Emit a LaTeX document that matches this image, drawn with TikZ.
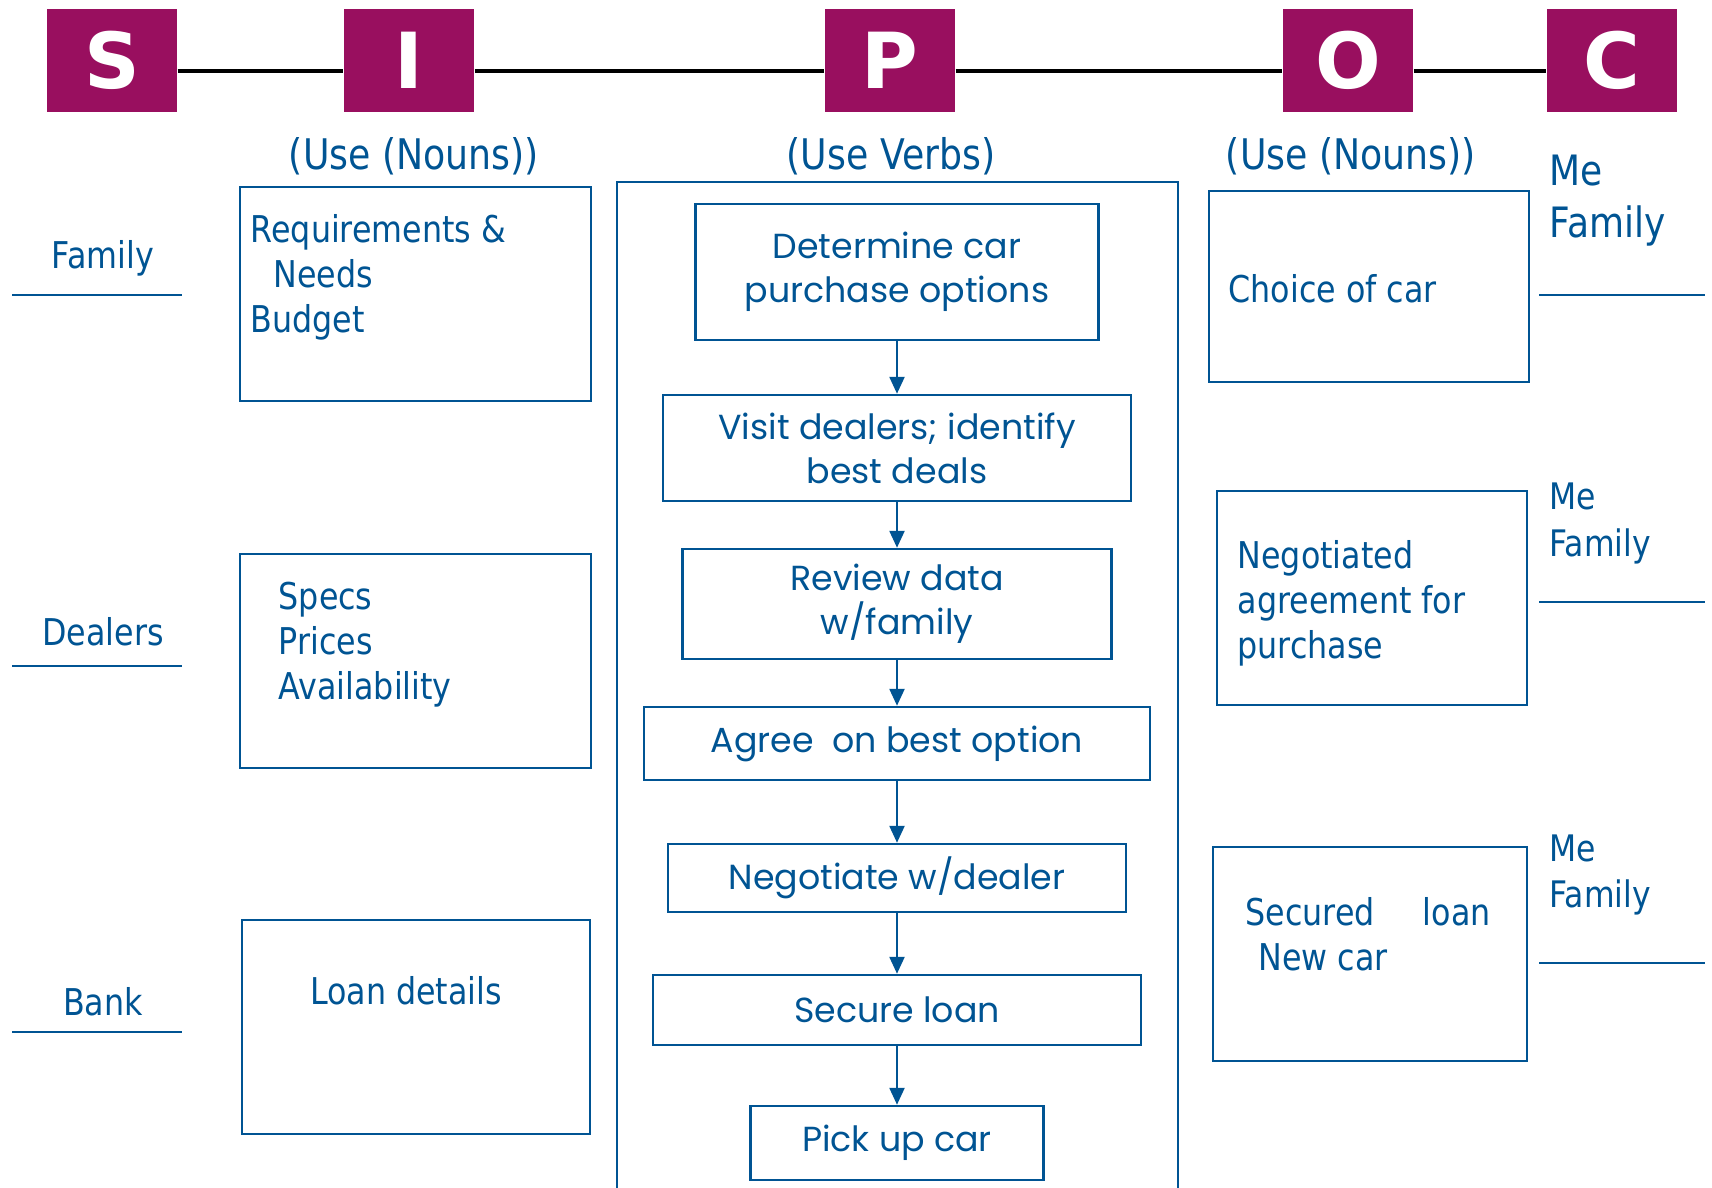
\documentclass[tikz,border=0pt]{standalone}
\usepackage{fontspec}
\setmainfont{DejaVu Sans}[FakeStretch=0.86]
\newfontfamily\letterfont{DejaVu Sans}
\newfontfamily\stepfont{Poppins}
\usetikzlibrary{arrows.meta}
\definecolor{sipocred}{RGB}{153,15,95}
\definecolor{sipocblue}{RGB}{0,84,147}
\tikzstyle{letterbox} = [fill=sipocred, text=white, minimum width=13mm, minimum height=10.3mm, inner sep=0pt, font=\letterfont\bfseries\fontsize{22}{22}\selectfont]
\tikzstyle{spine} = [black, line width=1.3pt]
\tikzstyle{heading} = [text=sipocblue, inner sep=0pt, font=\fontsize{12}{14}\selectfont]
\tikzstyle{listbox} = [draw=sipocblue, line width=0.7pt, inner sep=0pt]
\tikzstyle{stepbox} = [draw=sipocblue, line width=0.7pt, text=sipocblue, align=center, inner sep=0pt, font=\stepfont\fontsize{9.9}{12.5}\selectfont]
\tikzstyle{flow} = [sipocblue, line width=0.7pt, -{Triangle[length=1.7mm,width=1.5mm]}]
\tikzstyle{itemtext} = [text=sipocblue, align=left, inner sep=0pt, font=\fontsize{10.5}{12.8}\selectfont]
\tikzstyle{rule} = [sipocblue, line width=0.7pt]

\begin{document}
\begin{tikzpicture}[x=1mm, y=-1mm]
\useasboundingbox (0,0) rectangle (171.2,118.8);

% letters across the top
\node[letterbox] (S) at (11.2,6.05) {S};
\node[letterbox] (I) at (40.9,6.05) {I};
\node[letterbox] (P) at (89.0,6.05) {P};
\node[letterbox] (O) at (134.8,6.05) {O};
\node[letterbox] (C) at (161.2,6.05) {C};
\foreach \a/\b in {S/I, I/P, P/O, O/C}
  \draw[spine] ([yshift=-1.05mm]\a.east) -- ([yshift=-1.05mm]\b.west);

\node[heading] (hin) at (41.4,15.6) {(Use (Nouns))};
\node[heading] (hpr) at (89.1,15.6) {(Use Verbs)};
\node[heading] (hout) at (135.1,15.6) {(Use (Nouns))};

% suppliers
\node[itemtext] (s1) at (10.3,25.8) {Family};
\node[itemtext] (s2) at (10.3,63.2) {Dealers};
\node[itemtext] (s3) at (10.3,100.2) {Bank};
\draw[rule] (1.2,29.5) -- (18.2,29.5);
\draw[rule] (1.2,66.6) -- (18.2,66.6);
\draw[rule] (1.2,103.2) -- (18.2,103.2);

% inputs
\node[listbox, minimum width=35.1mm, minimum height=21.4mm] (in1) at (41.55,29.4) {};
\node[listbox, minimum width=35.1mm, minimum height=21.4mm] (in2) at (41.55,66.1) {};
\node[listbox, minimum width=34.8mm, minimum height=21.4mm] (in3) at (41.6,102.7) {};
\node[itemtext, anchor=west] (t1) at (25.0,27.7) {Requirements \&\\\hspace*{2.3mm}Needs\\Budget};
\node[itemtext, anchor=west] (t2) at (27.8,64.45) {Specs\\Prices\\Availability};
\node[itemtext] (t3) at (40.6,99.1) {Loan details};

% process steps
\draw[rule] (61.7,119.5) -- (61.7,18.2) -- (117.8,18.2) -- (117.8,119.5);
\node[stepbox, minimum width=40.3mm, minimum height=13.6mm] (p1) at (89.7,27.2) {Determine car\\purchase options};
\node[stepbox, minimum width=46.8mm, minimum height=10.6mm] (p2) at (89.7,44.8) {Visit dealers; identify\\best deals};
\node[stepbox, minimum width=42.9mm, minimum height=11.0mm] (p3) at (89.7,60.4) {Review data\\w/family};
\node[stepbox, minimum width=50.6mm, minimum height=7.3mm] (p4) at (89.7,74.35) {Agree\ \ on best option};
\node[stepbox, minimum width=45.8mm, minimum height=6.8mm] (p5) at (89.7,87.8) {Negotiate w/dealer};
\node[stepbox, minimum width=48.8mm, minimum height=7.0mm] (p6) at (89.7,101.0) {Secure loan};
\node[stepbox, minimum width=29.3mm, minimum height=7.4mm] (p7) at (89.7,114.3) {Pick up car};
\foreach \a/\b in {p1/p2, p2/p3, p3/p4, p4/p5, p5/p6, p6/p7}
  \draw[flow] (\a) -- (\b);

% outputs
\node[listbox, minimum width=32.0mm, minimum height=19.1mm] (out1) at (136.9,28.65) {};
\node[listbox, minimum width=31.0mm, minimum height=21.4mm] (out2) at (137.2,59.8) {};
\node[listbox, minimum width=31.4mm, minimum height=21.4mm] (out3) at (137.0,95.4) {};
\node[itemtext, anchor=west] (u1) at (122.8,28.9) {Choice of car};
\node[itemtext, anchor=west] (u2) at (123.7,60.3) {Negotiated\\agreement for\\purchase};
\node[itemtext, anchor=west] (u3) at (124.5,93.4) {Secured\hspace{4.8mm}loan\\\hspace*{1.3mm}New car};

% customers
\node[itemtext, anchor=west, font=\fontsize{11.9}{15}\selectfont] (c1) at (154.9,20.05) {Me\\Family};
\node[itemtext, anchor=west, font=\fontsize{10.4}{13.1}\selectfont] (c2) at (154.9,52.35) {Me\\Family};
\node[itemtext, anchor=west, font=\fontsize{10.4}{13.1}\selectfont] (c3) at (154.9,87.5) {Me\\Family};
\draw[rule] (153.9,29.5) -- (170.5,29.5);
\draw[rule] (153.9,60.2) -- (170.5,60.2);
\draw[rule] (153.9,96.3) -- (170.5,96.3);

\end{tikzpicture}
\end{document}
